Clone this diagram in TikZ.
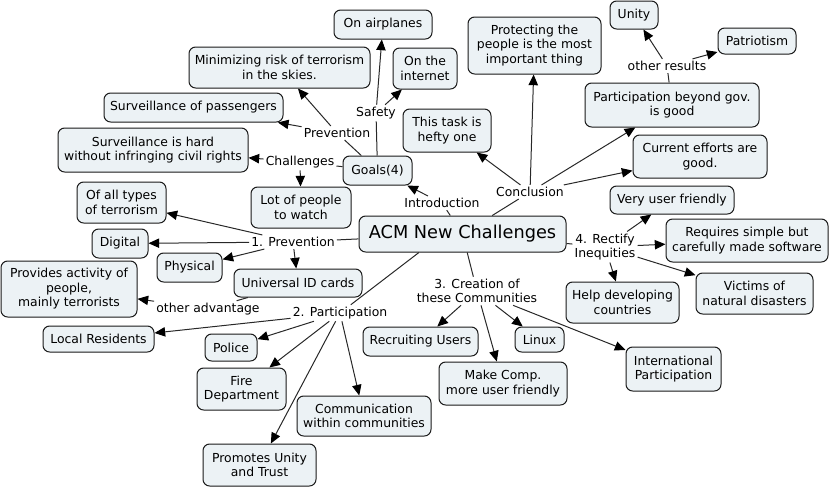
\documentclass[tikz,border=0pt]{standalone}
\usepackage{fontspec}
\setmainfont{DejaVu Sans}
\usetikzlibrary{arrows.meta}
\definecolor{boxfill}{RGB}{236,242,245}
\definecolor{boxline}{RGB}{25,25,25}
\definecolor{linkcol}{RGB}{40,40,40}
\begin{document}
\begin{tikzpicture}[x=0.75pt,y=-0.75pt,
  box/.style={draw=boxline, line width=0.75pt, fill=boxfill, rounded corners=5pt, align=center, inner sep=1pt, font=\fontsize{9.3}{10.9}\selectfont},
  sz/.style 2 args={minimum width=#1*0.75pt, minimum height=#2*0.75pt},
  lab/.style={inner sep=1.5pt, align=center, font=\fontsize{9.3}{10.9}\selectfont},
  link/.style={draw=linkcol, line width=0.75pt},
  arr/.style={link, -{Triangle[length=8pt,width=7pt,color=black]}}]
\useasboundingbox (0,0) rectangle (829,487);

% concept nodes
\node[box, sz={98}{29}] (airplanes) at (383,24.5) {On airplanes};
\node[box, sz={181}{41}] (minimizing) at (279.5,67.5) {Minimizing risk of terrorism\\in the skies.};
\node[box, sz={64}{41}] (internet) at (425,68.5) {On the\\internet};
\node[box, sz={179}{29}] (survpass) at (193.5,107.5) {Surveillance of passengers};
\node[box, sz={190}{44}] (survhard) at (153,150) {Surveillance is hard\\without infringing civil rights};
\node[box, sz={69}{29}] (goals) at (377.5,170.5) {Goals(4)};
\node[box, sz={88}{43}] (hefty) at (447,130.5) {This task is\\hefty one};
\node[box, sz={89}{41}] (alltypes) at (121.5,202.5) {Of all types\\of terrorism};
\node[box, sz={100}{41}] (lotpeople) at (301,207.5) {Lot of people\\to watch};
\node[box, sz={207}{36}, font=\fontsize{13.3}{15}\selectfont] (acm) at (462.5,234) {ACM New Challenges};
\node[box, sz={56}{29}] (digital) at (120,243.5) {Digital};
\node[box, sz={133}{57}] (protecting) at (534.5,45.5) {Protecting the\\people is the most\\important thing};
\node[box, sz={48}{28}] (unity) at (634,15) {Unity};
\node[box, sz={78}{26}] (patriotism) at (757,41) {Patriotism};
\node[box, sz={174}{44}] (partgov) at (672,105) {Participation beyond gov.\\is good};
\node[box, sz={134}{43}] (current) at (700,156.5) {Current efforts are\\good.};
\node[box, sz={124}{28}] (veryuser) at (672,200) {Very user friendly};
\node[box, sz={162}{43}] (requires) at (747,240.5) {Requires simple but\\carefully made software};
\node[box, sz={65}{29}] (physical) at (189.5,267.5) {Physical};
\node[box, sz={136}{56}] (provides) at (69,289) {Provides activity of\\people,\\mainly terrorists};
\node[box, sz={128}{28}] (univid) at (298,283) {Universal ID cards};
\node[box, sz={111}{26}] (local) at (98.5,339) {Local Residents};
\node[box, sz={52}{27}] (police) at (231,347.5) {Police};
\node[box, sz={89}{42}] (fire) at (241.5,389) {Fire\\Department};
\node[box, sz={134}{40}] (comm) at (364,416) {Communication\\within communities};
\node[box, sz={113}{42}] (promotes) at (259.5,465) {Promotes Unity\\and Trust};
\node[box, sz={115}{29}] (recruit) at (420.5,341.5) {Recruiting Users};
\node[box, sz={113}{41}] (help) at (622.5,302.5) {Help developing\\countries};
\node[box, sz={117}{41}] (victims) at (754.5,293.5) {Victims of\\natural disasters};
\node[box, sz={49}{25}] (linux) at (539.5,339.5) {Linux};
\node[box, sz={128}{43}] (makecomp) at (503,383.5) {Make Comp.\\more user friendly};
\node[box, sz={95}{44}] (intl) at (673.5,369) {International\\Participation};

% linking phrases
\node[lab] (safety) at (376,113) {Safety};
\node[lab] (prevg) at (337,133) {Prevention};
\node[lab] (challenges) at (300,162) {Challenges};
\node[lab] (intro) at (442,203) {Introduction};
\node[lab] (concl) at (530,192) {Conclusion};
\node[lab] (otherres) at (667,66) {other results};
\node[lab] (prev1) at (293,242) {1. Prevention};
\node[lab] (otheradv) at (208,309) {other advantage};
\node[lab] (part) at (340,313) {2. Participation};
\node[lab] (creation) at (477,291) {3. Creation of\\these Communities};
\node[lab] (rectify) at (605,247) {4. Rectify\\Inequities};

% Goals
\draw[link] (goals) -- (safety);
\draw[arr] (safety) -- (airplanes);
\draw[arr] (safety) -- (internet);
\draw[link] (goals) -- (prevg);
\draw[arr] (prevg) -- (minimizing);
\draw[arr] (prevg) -- (survpass);
\draw[link] (goals) -- (challenges);
\draw[arr] (challenges) -- (survhard);
\draw[arr] (challenges) -- (lotpeople);

% Introduction
\draw[link] (acm) -- (intro);
\draw[arr] (intro) -- (goals);

% Conclusion
\draw[link] (acm) -- (concl);
\draw[arr] (concl) -- (hefty);
\draw[arr] (concl) -- (protecting);
\draw[arr] (concl) -- (partgov);
\draw[arr] (concl) -- (current);
\draw[link] (partgov) -- (otherres);
\draw[arr] (otherres) -- (unity);
\draw[arr] (otherres) -- (patriotism);

% 1. Prevention
\draw[link] (acm) -- (prev1);
\draw[arr] (prev1) -- (alltypes);
\draw[arr] (prev1) -- (digital);
\draw[arr] (prev1) -- (physical);
\draw[arr] (prev1) -- (univid);
\draw[link] (univid) -- (otheradv);
\draw[arr] (otheradv) -- (provides);

% 2. Participation
\draw[link] (acm.203) -- (part);
\draw[arr] (part) -- (local);
\draw[arr] (part) -- (police);
\draw[arr] (part) -- (fire);
\draw[arr] (part) -- (comm);
\draw[arr] (part) -- (promotes);

% 3. Creation
\draw[link] (acm) -- (creation);
\draw[arr] (creation) -- (recruit);
\draw[arr] (creation) -- (linux);
\draw[arr] (creation) -- (makecomp);
\draw[arr] (creation) -- (intl);

% 4. Rectify
\draw[link] (acm) -- (rectify);
\draw[arr] (rectify) -- (veryuser);
\draw[arr] (rectify) -- (requires);
\draw[arr] (rectify) -- (help);
\draw[arr] (rectify) -- (victims);
\end{tikzpicture}
\end{document}
